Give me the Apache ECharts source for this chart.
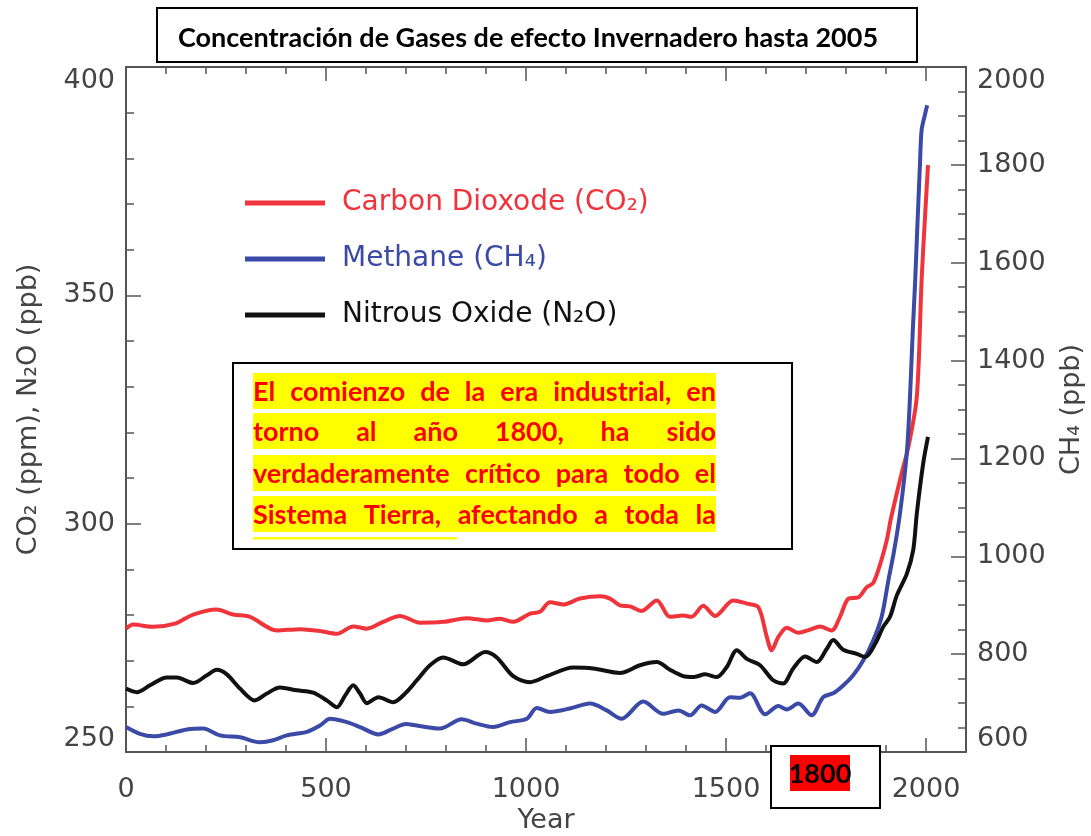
<!DOCTYPE html>
<html>
<head>
<meta charset="utf-8">
<title>Concentración de Gases de efecto Invernadero hasta 2005</title>
<script src="https://cdn.jsdelivr.net/npm/echarts/dist/echarts.min.js"></script>
<style>
  html, body { margin: 0; padding: 0; background: #fff; }
  #chart { width: 1091px; height: 836px; }
</style>
</head>
<body>
<div id="chart"></div>
<script>
// datos (años y valores)
const co2Years = [0, 18, 68, 122, 168, 227, 268, 310, 377, 435, 485, 527, 568, 602, 643, 685, 735, 793, 852, 902, 935, 968,
  1010, 1035, 1060, 1093, 1135, 1185, 1210, 1235, 1260, 1289, 1327, 1360, 1393, 1414, 1443, 1473, 1518, 1552, 1581, 1602,
  1614, 1631, 1652, 1681, 1710, 1735, 1764, 1785, 1806, 1831, 1852, 1868, 1885, 1902, 1912, 1939, 1956, 1977, 1989, 1998, 2005];
const co2Values = [277.0, 277.9, 277.4, 278.1, 280.1, 281.2, 280.1, 279.6, 276.6, 276.9, 276.5, 275.9, 277.5, 277.0, 278.5, 279.8, 278.3, 278.5, 279.3, 278.8, 279.2, 278.5,
  280.3, 280.7, 282.8, 282.3, 283.6, 284.1, 283.6, 282.1, 281.9, 280.9, 283.2, 279.6, 279.9, 279.6, 282.0, 279.8, 283.2, 282.5, 281.7, 275.2,
  272.3, 275.2, 277.2, 276.1, 276.8, 277.5, 276.6, 279.6, 283.6, 283.9, 286.1, 287.0, 291.0, 296.4, 301.0, 311.0, 316.8, 327.8, 353.3, 367.9, 378.5];

const ch4Years = [0, 35, 68, 102, 152, 193, 235, 285, 335, 368, 402, 452, 485, 510, 552, 585, 631, 668, 700, 727, 785, 839, 877, 918, 960,
  1002, 1027, 1060, 1110, 1160, 1202, 1239, 1293, 1343, 1381, 1410, 1439, 1473, 1510, 1535, 1560, 1598, 1631, 1652, 1681, 1714,
  1743, 1768, 1793, 1818, 1843, 1868, 1889, 1906, 1920, 1935, 1952, 1960, 1967, 1973, 1978, 1985, 1989, 1998, 2003];
const ch4Values = [651, 637, 632, 636, 646, 648, 634, 630, 620, 624, 634, 641, 654, 668, 661, 651, 636, 648, 657, 654, 648, 667, 658, 651, 661,
  668, 690, 682, 689, 699, 685, 668, 703, 678, 685, 675, 695, 682, 712, 711, 720, 677, 694, 687, 699, 675,
  712, 720, 736, 757, 787, 828, 876, 951, 1010, 1088, 1211, 1326, 1462, 1564, 1666, 1803, 1871, 1905, 1922];

const n2oYears = [0, 27, 60, 102, 127, 168, 202, 227, 252, 285, 322, 352, 385, 427, 468, 502, 527, 548, 568, 585, 602, 631, 668, 700,
  727, 760, 793, 843, 898, 927, 968, 1010, 1052, 1118, 1168, 1235, 1285, 1327, 1360, 1393, 1418, 1448, 1477, 1502, 1527, 1552,
  1585, 1618, 1643, 1668, 1698, 1727, 1752, 1768, 1793, 1827, 1848, 1873, 1893, 1910, 1927, 1952, 1968, 1977, 1993, 2005];
const n2oValues = [263.9, 263.1, 264.6, 266.3, 266.3, 265.1, 266.8, 268.0, 267.0, 263.9, 261.3, 262.8, 264.1, 263.5, 263.0, 261.3, 259.8, 262.4, 264.6, 262.8, 260.7, 262.0, 260.9, 263.0,
  265.7, 269.0, 270.7, 269.2, 271.9, 270.7, 266.6, 265.3, 266.6, 268.5, 268.3, 267.3, 269.0, 269.7, 268.0, 266.6, 266.4, 267.0, 266.4, 268.6, 272.3, 270.4,
  269.0, 265.7, 265.0, 268.3, 270.9, 269.7, 272.6, 274.5, 272.4, 271.5, 270.8, 273.7, 277.4, 279.6, 284.3, 289.0, 294.2, 302.2, 313.2, 319.0];

const seriesNames = ['Carbon Dioxode (CO₂)', 'Methane (CH₄)', 'Nitrous Oxide (N₂O)'];
const seriesColors = ['#f0343c', '#3a4aa6', '#111111'];

const titleText = 'Concentración de Gases de efecto Invernadero hasta 2005';
const noteLines = [
  'El comienzo de la era industrial, en',
  'torno al año 1800, ha sido',
  'verdaderamente crítico para todo el',
  'Sistema Tierra, afectando a toda la'
];
const markYear = '1800';

function pairs(xs, ys) {
  return xs.map((x, i) => [x, ys[i]]);
}

// texto justificado palabra por palabra (como en el cuadro original)
const noteFont = 'bold 27px Lato';
const noteLeft = 253, noteWidth = 463, noteTops = [373, 413, 455, 496], noteH = 36;
function noteGraphics() {
  const ctx = document.createElement('canvas').getContext('2d');
  ctx.font = noteFont;
  const els = [];
  noteLines.forEach((line, i) => {
    els.push({ type: 'rect', z: 101, shape: { x: noteLeft, y: noteTops[i], width: noteWidth, height: noteH }, style: { fill: '#ffff00' } });
    const words = line.split(/\s+/);
    const ws = words.map(w => ctx.measureText(w).width);
    const gap = (noteWidth - ws.reduce((a, b) => a + b, 0)) / (words.length - 1);
    let x = noteLeft;
    words.forEach((w, j) => {
      els.push({ type: 'text', z: 102, x: x, y: noteTops[i] + noteH / 2 + 1,
        style: { text: w, font: noteFont, fill: '#ff0000', align: 'left', verticalAlign: 'middle' } });
      x += ws[j] + gap;
    });
  });
  els.push({ type: 'rect', z: 101, shape: { x: noteLeft, y: 537, width: 204, height: 2.5 }, style: { fill: '#ffff00' } });
  return els;
}

const axisGray = '#555';
const labelFont = { fontFamily: 'DejaVu Sans', fontSize: 27, color: '#444' };
const plain = v => String(v);
const frameLine = { show: true, onZero: false, lineStyle: { color: axisGray, width: 2 } };

const chart = echarts.init(document.getElementById('chart'), null, { renderer: 'canvas' });

chart.setOption({
  backgroundColor: '#fff',
  animation: false,
  grid: { left: 126, right: 125, top: 67, bottom: 84, containLabel: false, outerBoundsMode: 'none' },
  legend: {
    orient: 'vertical',
    left: 245,
    top: 189,
    padding: 0,
    itemGap: 28,
    itemWidth: 80,
    itemHeight: 5,
    icon: 'rect',
    selectedMode: false,
    textStyle: { fontFamily: 'DejaVu Sans', fontSize: 28, padding: [0, 0, 0, 12] },
    data: seriesNames.map((n, i) => ({ name: n, textStyle: { color: seriesColors[i] } }))
  },
  xAxis: [{
    type: 'value',
    min: 0, max: 2100, interval: 500,
    name: 'Year', nameLocation: 'middle', nameGap: 54,
    nameTextStyle: labelFont,
    axisLine: frameLine,
    axisTick: { show: true, inside: true, length: 14, lineStyle: { color: axisGray, width: 1.5 } },
    minorTick: { show: true, splitNumber: 5, length: 7, lineStyle: { color: axisGray, width: 1.5 } },
    axisLabel: Object.assign({ margin: 24, showMaxLabel: false, formatter: plain }, labelFont),
    splitLine: { show: false }
  }, {
    type: 'value', position: 'top',
    min: 0, max: 2100, interval: 500,
    axisLine: frameLine,
    axisTick: { show: true, inside: true, length: 14, lineStyle: { color: axisGray, width: 1.5 } },
    minorTick: { show: true, splitNumber: 5, length: 7, lineStyle: { color: axisGray, width: 1.5 } },
    axisLabel: { show: false },
    splitLine: { show: false }
  }],
  yAxis: [{
    type: 'value',
    min: 250, max: 400, interval: 50,
    name: 'CO₂ (ppm), N₂O (ppb)', nameLocation: 'middle', nameRotate: 90, nameGap: 84,
    nameTextStyle: labelFont,
    axisLine: frameLine,
    axisTick: { show: true, inside: true, length: 15, lineStyle: { color: axisGray, width: 1.5 } },
    minorTick: { show: true, splitNumber: 5, length: 8, lineStyle: { color: axisGray, width: 1.5 } },
    axisLabel: Object.assign({ margin: 11, formatter: plain, verticalAlignMaxLabel: 'top', verticalAlignMinLabel: 'bottom' }, labelFont),
    splitLine: { show: false }
  }, {
    type: 'value', position: 'right',
    min: 600, max: 2000, interval: 200,
    name: 'CH₄ (ppb)', nameLocation: 'middle', nameRotate: 90, nameGap: 92,
    nameTextStyle: labelFont,
    axisLine: frameLine,
    axisTick: { show: true, inside: true, length: 15, lineStyle: { color: axisGray, width: 1.5 } },
    minorTick: { show: true, splitNumber: 4, length: 8, lineStyle: { color: axisGray, width: 1.5 } },
    axisLabel: Object.assign({ margin: 11, formatter: plain, verticalAlignMaxLabel: 'top', verticalAlignMinLabel: 'bottom' }, labelFont),
    splitLine: { show: false }
  }],
  series: [{
    name: seriesNames[0], type: 'line', yAxisIndex: 0, symbol: 'none', smooth: 0.3,
    data: pairs(co2Years, co2Values),
    lineStyle: { color: seriesColors[0], width: 4 }, itemStyle: { color: seriesColors[0] }
  }, {
    name: seriesNames[1], type: 'line', yAxisIndex: 1, symbol: 'none', smooth: 0.3,
    data: pairs(ch4Years, ch4Values),
    lineStyle: { color: seriesColors[1], width: 4 }, itemStyle: { color: seriesColors[1] }
  }, {
    name: seriesNames[2], type: 'line', yAxisIndex: 0, symbol: 'none', smooth: 0.3,
    data: pairs(n2oYears, n2oValues),
    lineStyle: { color: seriesColors[2], width: 4 }, itemStyle: { color: seriesColors[2] }
  }],
  graphic: [
    // cuadro del titulo
    { type: 'rect', z: 100, shape: { x: 157, y: 8, width: 760, height: 54 }, style: { fill: '#fff', stroke: '#000', lineWidth: 2 } },
    { type: 'text', z: 101, x: 528, y: 38, style: { text: titleText, font: 'bold 27px Lato', fill: '#000', align: 'center', verticalAlign: 'middle' } },
    // cuadro de la nota
    { type: 'rect', z: 100, shape: { x: 233, y: 363, width: 559, height: 186 }, style: { fill: '#fff', stroke: '#000', lineWidth: 2 } }
  ].concat(noteGraphics(), [
    // marca del año 1800
    { type: 'rect', z: 100, shape: { x: 771, y: 746, width: 109, height: 62 }, style: { fill: '#fff', stroke: '#000', lineWidth: 2 } },
    { type: 'rect', z: 101, shape: { x: 790, y: 755, width: 60, height: 36 }, style: { fill: '#ff0000' } },
    { type: 'text', z: 102, x: 820, y: 774, style: { text: markYear, font: 'bold 27px Lato', fill: '#000', align: 'center', verticalAlign: 'middle' } }
  ])
});
</script>
</body>
</html>
